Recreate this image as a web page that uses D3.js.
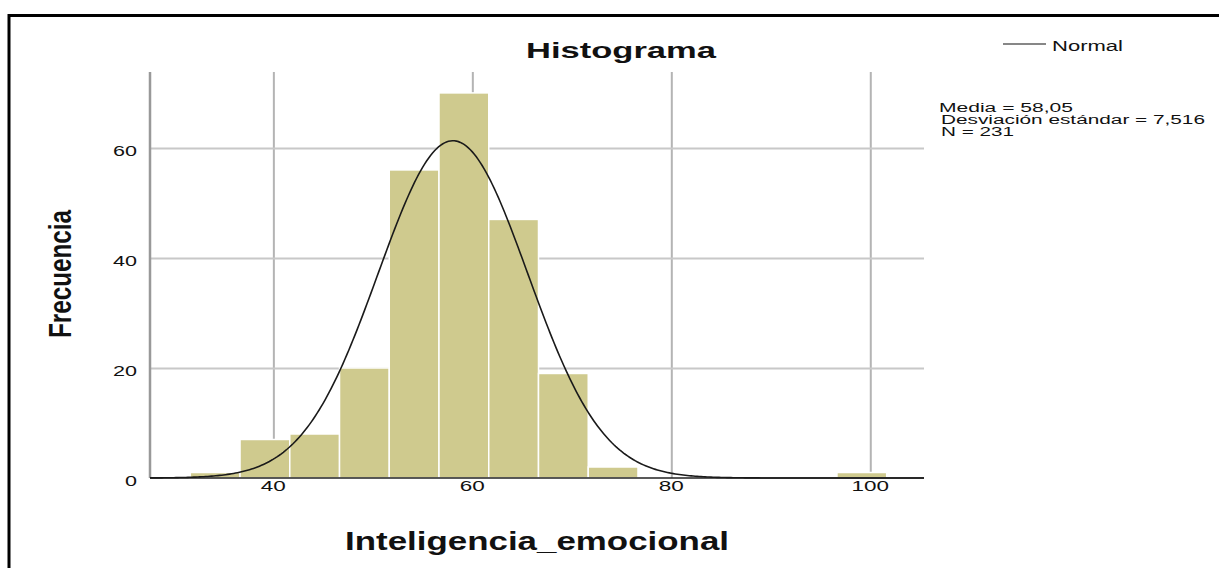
<!DOCTYPE html>
<html>
<head>
<meta charset="utf-8">
<script src="https://cdn.jsdelivr.net/npm/d3@7"></script>
<style>
  body { margin: 0; background: #fff; }
  text { font-family: "Liberation Sans", Arial, sans-serif; fill: #111; }
</style>
</head>
<body>
<div id="chart"></div>
<script>
(function () {

  var w = 1219;
  var h = 568;

  // histogram bins (lower edge) and counts
  var binLower = [31.65, 36.65, 41.65, 46.65, 51.65, 56.65, 61.65, 66.65, 71.65, 96.65];
  var binWidth = 5;
  var counts = [1, 7, 8, 20, 56, 70, 47, 19, 2, 1];

  var xTicks = [40, 60, 80, 100];
  var yTicks = [0, 20, 40, 60];

  var stats = { mean: 58.05, sd: 7.516, n: 231 };
  var statLines = ["Media = 58,05", "Desviación estándar = 7,516", "N = 231"];
  var statWidths = [134, 264, 73];

  var xScale = d3.scaleLinear()
    .domain([27.6, 105.4])
    .range([150, 924]);

  var yScale = d3.scaleLinear()
    .domain([0, 73.8])
    .range([478, 72]);

  var svg = d3.select("#chart")
    .append("svg")
    .attr("width", w)
    .attr("height", h);

  // frame
  svg.append("rect")
    .attr("x", 9)
    .attr("y", 15.5)
    .attr("width", w + 20)
    .attr("height", h + 20)
    .style("fill", "none")
    .style("stroke", "#000")
    .style("stroke-width", 3);

  // vertical grid
  svg.append("g")
    .attr("transform", "translate(0,478)")
    .call(d3.axisBottom(xScale).tickValues(xTicks).tickSize(-406).tickFormat(""))
    .call(function (g) {
      g.select(".domain").remove();
      g.selectAll("line").style("stroke", "#b4b4b4").style("stroke-width", 2);
    });

  // horizontal grid
  svg.append("g")
    .attr("transform", "translate(150,0)")
    .call(d3.axisLeft(yScale).tickValues(yTicks.slice(1)).tickSize(-774).tickFormat(""))
    .call(function (g) {
      g.select(".domain").remove();
      g.selectAll("line").style("stroke", "#c8c8c8").style("stroke-width", 2);
    });

  // bars
  svg.selectAll(".bar")
    .data(counts)
    .enter()
    .append("rect")
    .attr("class", "bar")
    .attr("x", function (d, i) { return xScale(binLower[i]); })
    .attr("width", function (d, i) { return xScale(binLower[i] + binWidth) - xScale(binLower[i]); })
    .attr("y", function (d) { return yScale(d); })
    .attr("height", function (d) { return yScale(0) - yScale(d); })
    .style("fill", "#cfca8e")
    .style("stroke", "#fff")
    .style("stroke-width", 1.5);

  // y axis line
  svg.append("line")
    .attr("x1", 150).attr("x2", 150)
    .attr("y1", 72).attr("y2", 478)
    .style("stroke", "#999")
    .style("stroke-width", 2.5);

  // baseline
  svg.append("line")
    .attr("x1", 150).attr("x2", 924)
    .attr("y1", yScale(0)).attr("y2", yScale(0))
    .style("stroke", "#222")
    .style("stroke-width", 1.5);

  // normal curve fitted from the stats
  var pts = d3.range(27.6, 105.4, 0.2).map(function (v) {
    var z = (v - stats.mean) / stats.sd;
    var f = stats.n * binWidth * Math.exp(-0.5 * z * z) / (stats.sd * Math.sqrt(2 * Math.PI));
    return [v, f];
  });

  svg.append("path")
    .datum(pts)
    .attr("d", d3.line()
      .x(function (d) { return xScale(d[0]); })
      .y(function (d) { return yScale(d[1]); }))
    .style("fill", "none")
    .style("stroke", "#1a1a1a")
    .style("stroke-width", 1.6);

  // tick labels
  svg.selectAll(".xlab")
    .data(xTicks)
    .enter()
    .append("text")
    .attr("x", function (d) { return xScale(d); })
    .attr("y", 491)
    .attr("text-anchor", "middle")
    .attr("textLength", function (d) { return String(d).length * 12.5; })
    .attr("lengthAdjust", "spacingAndGlyphs")
    .style("font-size", "15px")
    .text(function (d) { return d; });

  svg.selectAll(".ylab")
    .data(yTicks)
    .enter()
    .append("text")
    .attr("x", 137)
    .attr("y", function (d) { return yScale(d) + 8; })
    .attr("text-anchor", "end")
    .attr("textLength", function (d) { return String(d).length * 12; })
    .attr("lengthAdjust", "spacingAndGlyphs")
    .style("font-size", "15px")
    .text(function (d) { return d; });

  // title
  svg.append("text")
    .attr("x", 621)
    .attr("y", 58)
    .attr("text-anchor", "middle")
    .attr("textLength", 190)
    .attr("lengthAdjust", "spacingAndGlyphs")
    .style("font-size", "22px")
    .style("font-weight", "bold")
    .text("Histograma");

  // axis titles
  svg.append("text")
    .attr("x", 537)
    .attr("y", 550)
    .attr("text-anchor", "middle")
    .attr("textLength", 384)
    .attr("lengthAdjust", "spacingAndGlyphs")
    .style("font-size", "26px")
    .style("font-weight", "bold")
    .text("Inteligencia_emocional");

  svg.append("text")
    .attr("transform", "translate(71,274) rotate(-90)")
    .attr("text-anchor", "middle")
    .attr("textLength", 128)
    .attr("lengthAdjust", "spacingAndGlyphs")
    .style("font-family", "'Liberation Sans Narrow', 'Liberation Sans', Arial, sans-serif")
    .style("font-size", "31px")
    .style("font-weight", "bold")
    .text("Frecuencia");

  // legend
  svg.append("line")
    .attr("x1", 1003).attr("x2", 1046)
    .attr("y1", 44).attr("y2", 44)
    .style("stroke", "#111")
    .style("stroke-width", 1.2);

  svg.append("text")
    .attr("x", 1052)
    .attr("y", 51)
    .attr("textLength", 71)
    .attr("lengthAdjust", "spacingAndGlyphs")
    .style("font-size", "14px")
    .text("Normal");

  svg.selectAll(".stat")
    .data(statLines)
    .enter()
    .append("text")
    .attr("x", function (d, i) { return i == 0 ? 939 : 941; })
    .attr("y", function (d, i) { return 112 + i * 12; })
    .attr("textLength", function (d, i) { return statWidths[i]; })
    .attr("lengthAdjust", "spacingAndGlyphs")
    .style("font-size", "12px")
    .text(function (d) { return d; });

})();
</script>
</body>
</html>
